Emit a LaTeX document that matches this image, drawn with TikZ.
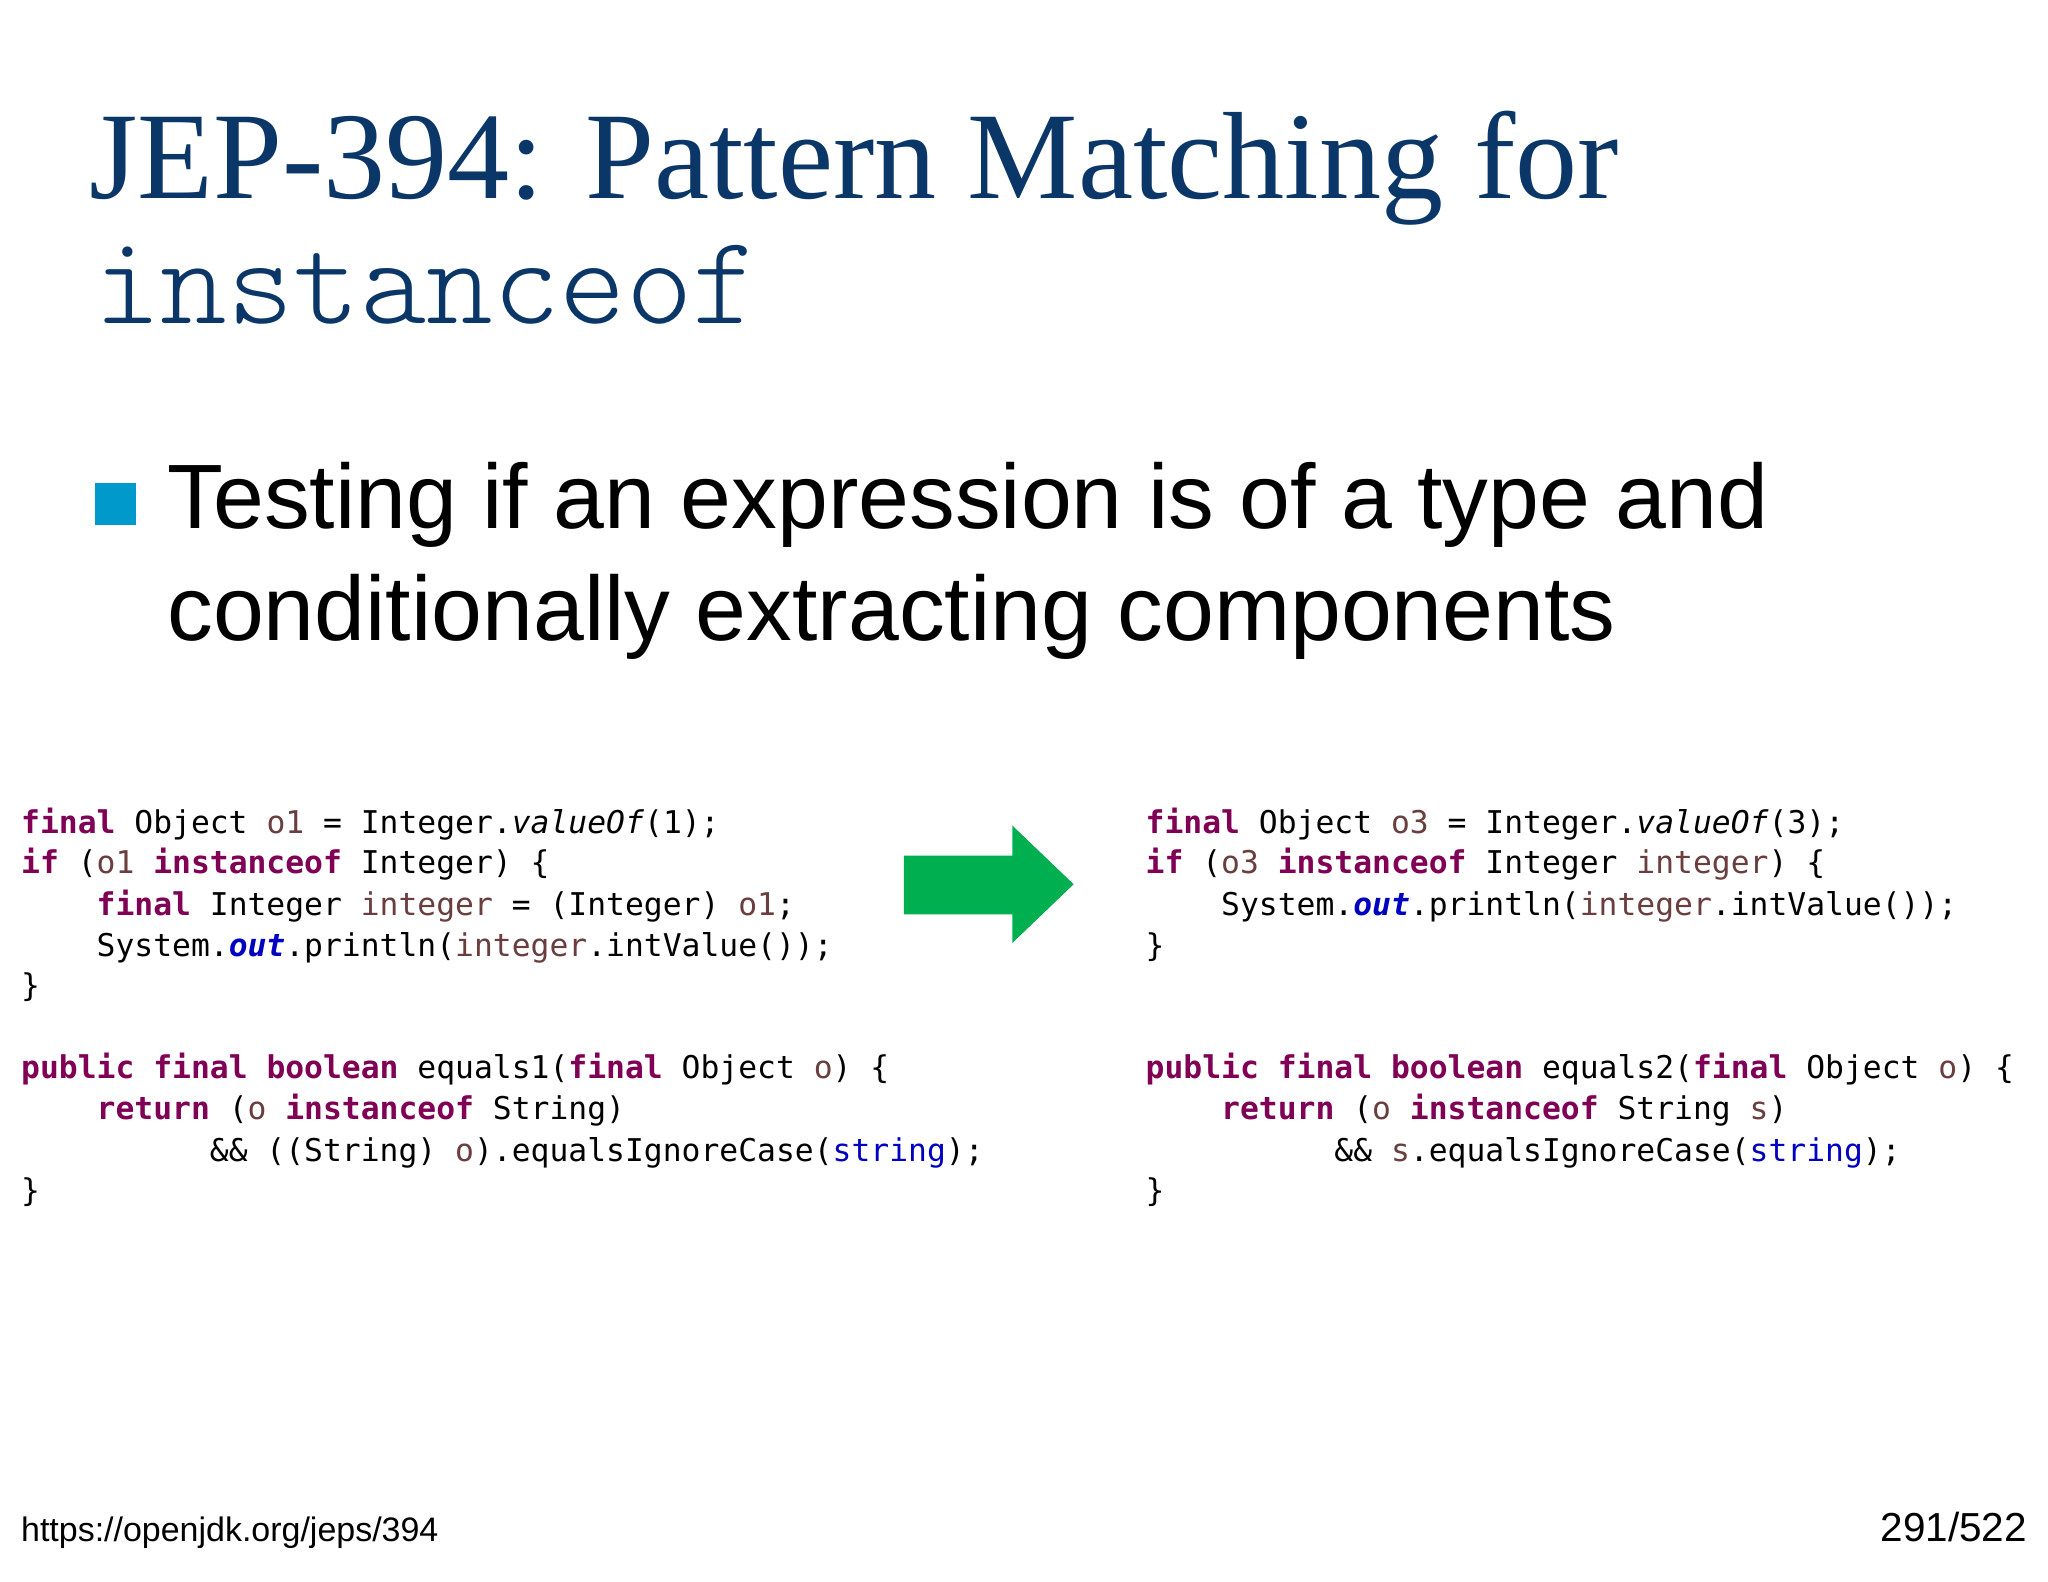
\documentclass[tikz,border=0pt]{standalone}
\usepackage{fontspec}
\setmainfont{Liberation Serif}
\setsansfont{Liberation Sans}
\setmonofont{DejaVu Sans Mono}
\newfontfamily\cour{Latin Modern Mono Light}
\definecolor{titleblue}{HTML}{0B3668}
\definecolor{kw}{HTML}{7F0055}
\definecolor{var}{HTML}{6A3E3E}
\definecolor{fld}{HTML}{0000C0}
\definecolor{bul}{HTML}{0099CC}
\definecolor{arr}{HTML}{00B050}
\newcommand{\K}[1]{\textcolor{kw}{\textbf{#1}}}
\newcommand{\V}[1]{\textcolor{var}{#1}}
\newcommand{\F}[1]{\textcolor{fld}{\textbf{\textit{#1}}}}
\newcommand{\St}[1]{\textcolor{fld}{#1}}
\begin{document}
\begin{tikzpicture}[x=1pt,y=-1pt,
  code/.style={anchor=base west,inner sep=0pt,font=\ttfamily\fontsize{24}{24}\selectfont},
  lbl/.style={anchor=base west,inner sep=0pt}]
\useasboundingbox[fill=white] (0,0) rectangle (1568,1211);
\node[lbl,text=titleblue,font=\fontsize{95}{95}\selectfont] (t1) at (68,152) {JEP-394: Pattern Matching for};
\node[lbl,text=titleblue,font=\cour\fontsize{97}{97}\selectfont] (t2) at (72,248) {instanceof};
\fill[bul] (73,370) rectangle (104,402);
\node[lbl,font=\sffamily\fontsize{70}{70}\selectfont] (b1) at (128,405) {Testing if an expression is of a type and};
\node[lbl,font=\sffamily\fontsize{70}{70}\selectfont] (b2) at (128,490) {conditionally extracting components};
% left code
\node[code] (l1) at (16,638) {\K{final} Object \V{o1} = Integer.\textit{valueOf}(1);};
\node[code] (l2) at (16,669) {\K{if} (\V{o1} \K{instanceof} Integer) \{};
\node[code] (l3) at (16,701) {\phantom{xxxx}\K{final} Integer \V{integer} = (Integer) \V{o1};};
\node[code] (l4) at (16,732) {\phantom{xxxx}System.\F{out}.println(\V{integer}.intValue());};
\node[code] (l5) at (16,763) {\}};
\node[code] (l6) at (16,826) {\K{public} \K{final} \K{boolean} equals1(\K{final} Object \V{o}) \{};
\node[code] (l7) at (16,857) {\phantom{xxxx}\K{return} (\V{o} \K{instanceof} String)};
\node[code] (l8) at (16,889) {\phantom{xxxxxxxxxx}\&\& ((String) \V{o}).equalsIgnoreCase(\St{string});};
\node[code] (l9) at (16,920) {\}};
% right code
\node[code] (r1) at (877,638) {\K{final} Object \V{o3} = Integer.\textit{valueOf}(3);};
\node[code] (r2) at (877,669) {\K{if} (\V{o3} \K{instanceof} Integer \V{integer}) \{};
\node[code] (r3) at (877,701) {\phantom{xxxx}System.\F{out}.println(\V{integer}.intValue());};
\node[code] (r4) at (877,732) {\}};
\node[code] (r6) at (877,826) {\K{public} \K{final} \K{boolean} equals2(\K{final} Object \V{o}) \{};
\node[code] (r7) at (877,857) {\phantom{xxxx}\K{return} (\V{o} \K{instanceof} String \V{s})};
\node[code] (r8) at (877,889) {\phantom{xxxxxxxxxx}\&\& \V{s}.equalsIgnoreCase(\St{string});};
\node[code] (r9) at (877,920) {\}};
% arrow
\fill[arr] (692,655) -- (775,655) -- (775,632) -- (822,677) -- (775,722) -- (775,700) -- (692,700) -- cycle;
\node[lbl,font=\sffamily\fontsize{26}{26}\selectfont] (f1) at (16,1180) {https://openjdk.org/jeps/394};
\node[anchor=base east,inner sep=0pt,font=\sffamily\fontsize{31}{31}\selectfont] (f2) at (1552,1180) {291/522};
\end{tikzpicture}
\end{document}
